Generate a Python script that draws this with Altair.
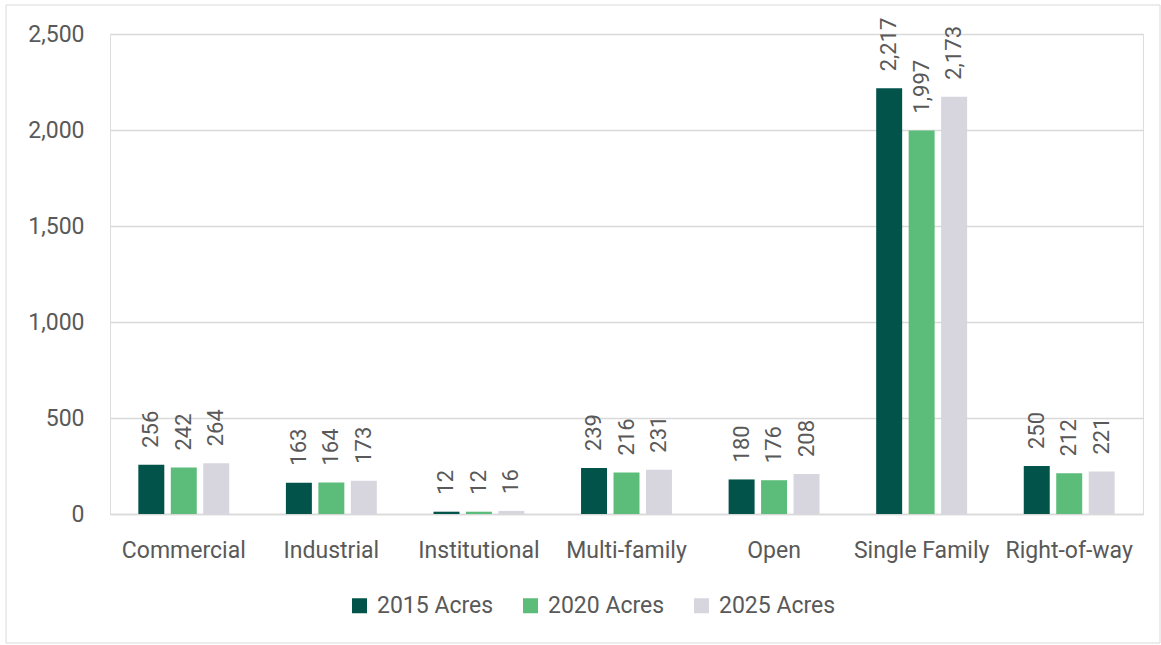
import altair as alt
import pandas as pd

categories = ["Commercial", "Industrial", "Institutional", "Multi-family", "Open", "Single Family", "Right-of-way"]
series = ["2015 Acres", "2020 Acres", "2025 Acres"]
acres_2015 = [256, 163, 12, 239, 180, 2217, 250]
acres_2020 = [242, 164, 12, 216, 176, 1997, 212]
acres_2025 = [264, 173, 16, 231, 208, 2173, 221]
colors = ["#02534A", "#5BBD79", "#D7D6DF"]
y_ticks = [0, 500, 1000, 1500, 2000, 2500]

rows = []
for s, vals in zip(series, [acres_2015, acres_2020, acres_2025]):
    for c, v in zip(categories, vals):
        rows.append({"category": c, "series": s, "value": v})
df = pd.DataFrame(rows)

FONT = "Roboto"
TXT = "#595959"
GRID = "#D9D9D9"

x_enc = alt.X("category:N", sort=categories, title=None,
              scale=alt.Scale(paddingInner=0.34, paddingOuter=0.17),
              axis=alt.Axis(labelAngle=0, labelFontSize=23, labelColor=TXT, labelFont=FONT,
                            labelPadding=25, ticks=False, domainColor=GRID, domainWidth=1.5))
xo_enc = alt.XOffset("series:N", sort=series, scale=alt.Scale(paddingInner=0.2, paddingOuter=0.1))
y_enc = alt.Y("value:Q", title=None,
              scale=alt.Scale(domain=[0, 2500], nice=False),
              axis=alt.Axis(values=y_ticks, format=",.0f", labelFontSize=23, labelColor=TXT, labelFont=FONT,
                            labelPadding=26, ticks=False, domain=False, gridColor=GRID, gridWidth=1.5))

base = alt.Chart(df)

bars = base.mark_bar().encode(
    x=x_enc, xOffset=xo_enc, y=y_enc,
    color=alt.Color("series:N", sort=series, title=None,
                    scale=alt.Scale(domain=series, range=colors),
                    legend=alt.Legend(orient="none", legendX=238, legendY=560, direction="horizontal",
                                      symbolType="square", symbolSize=225, symbolStrokeWidth=0,
                                      labelFontSize=23, labelColor=TXT, labelFont=FONT,
                                      labelOffset=6, columnPadding=25)),
)

labels = base.mark_text(angle=270, align="left", baseline="middle", dx=17,
                        fontSize=22, font=FONT, color=TXT).encode(
    x=alt.X("category:N", sort=categories),
    xOffset=alt.XOffset("series:N", sort=series),
    y=alt.Y("value:Q"),
    text=alt.Text("value:Q", format=","),
)

border = alt.Chart(pd.DataFrame({"a": [0]})).mark_rect(
    filled=False, stroke=GRID, strokeWidth=1).encode(
    x=alt.value(-104), x2=alt.value(1050), y=alt.value(-29), y2=alt.value(609))

chart = alt.layer(bars, labels, border).properties(
    width=1033, height=480,
    autosize=alt.AutoSizeParams(type="none"),
    padding={"left": 110, "top": 34, "right": 18, "bottom": 131},
).configure_view(stroke=None).configure(background="white")

chart.save("out.html", embed_options={"renderer": "svg", "actions": False})
